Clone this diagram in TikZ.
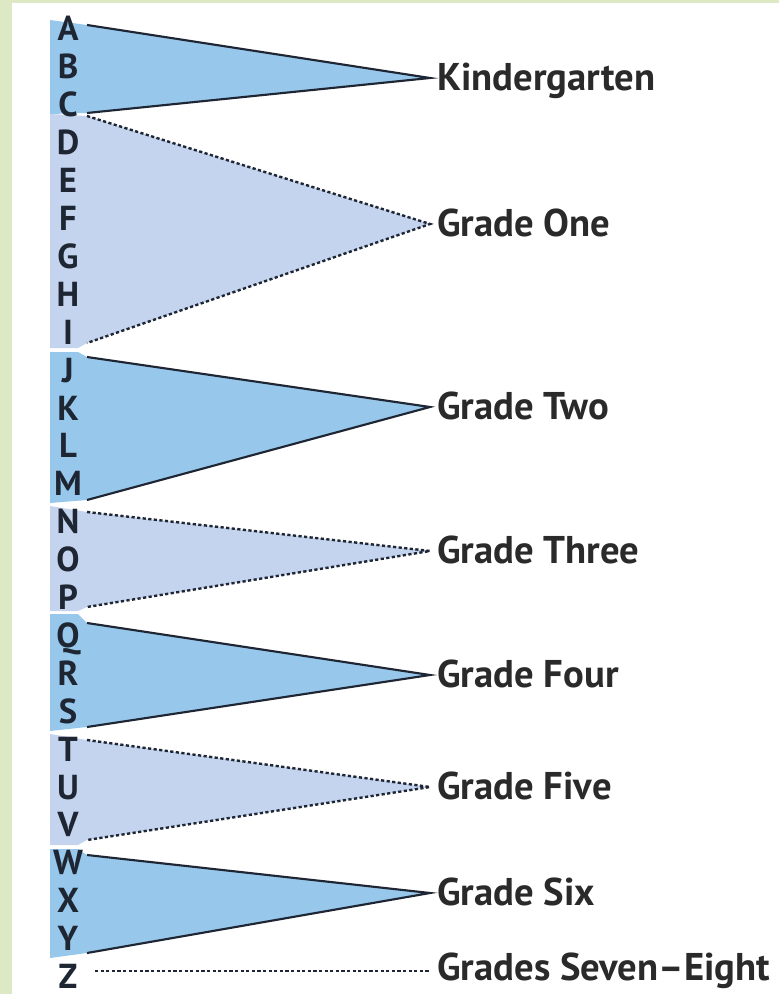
\documentclass[tikz,border=0pt]{standalone}
\usepackage{fontspec}
\setmainfont{PT Sans}
\definecolor{bggreen}{HTML}{DCE9C4}
\definecolor{solidblue}{HTML}{97C8EC}
\definecolor{lightblue}{HTML}{C4D4EF}
\definecolor{inkc}{HTML}{1F2633}
\definecolor{textc}{HTML}{2A2A2A}
\begin{document}
\begin{tikzpicture}[x=0.75pt,y=-0.75pt,
  letter/.style={font=\fontsize{26}{26}\selectfont\bfseries, text=inkc, inner sep=0pt, anchor=base},
  glabel/.style={font=\fontsize{29}{29}\selectfont\bfseries, text=textc, inner sep=0pt, anchor=base west},
  solidedge/.style={draw=inkc, line width=1.6pt},
  dotedge/.style={draw=inkc, line width=1.8pt, dash pattern=on 2.4pt off 1.8pt},
  solidfill/.style={fill=solidblue},
  lightfill/.style={fill=lightblue}]
\useasboundingbox (0,0) rectangle (779,994);
\fill[bggreen] (0,0) rectangle (779,994);
\fill[white] (12,3) rectangle (779,994);

% apex and end coordinates
\coordinate (kT) at (87,25);  \coordinate (kB) at (87,113); \coordinate (kA) at (430,78);
\coordinate (oT) at (87,116); \coordinate (oB) at (87,343); \coordinate (oA) at (430,224);
\coordinate (wT) at (87,357); \coordinate (wB) at (87,500); \coordinate (wA) at (430,407);
\coordinate (hT) at (87,512); \coordinate (hB) at (87,607); \coordinate (hA) at (430,551);
\coordinate (fT) at (87,623); \coordinate (fB) at (87,727); \coordinate (fA) at (430,675);
\coordinate (vT) at (87,740); \coordinate (vB) at (87,840); \coordinate (vA) at (430,787);
\coordinate (sT) at (87,855); \coordinate (sB) at (87,953); \coordinate (sA) at (430,893);
\coordinate (zS) at (95,971); \coordinate (zA) at (430,971);

% fills (strip + triangle)
\fill[solidfill] (50,20) -- (kT) -- (kA) -- (kB) -- (50,114) -- cycle;
\fill[lightfill] (50,114) -- (oT) -- (oA) -- (oB) -- (78,348) -- (50,348) -- cycle;
\fill[solidfill] (50,352) -- (78,352) -- (wT) -- (wA) -- (wB) -- (50,503) -- cycle;
\fill[lightfill] (50,506) -- (hT) -- (hA) -- (hB) -- (78,611) -- (50,611) -- cycle;
\fill[solidfill] (50,614) -- (78,614) -- (fT) -- (fA) -- (fB) -- (50,731) -- cycle;
\fill[lightfill] (50,734) -- (vT) -- (vA) -- (vB) -- (78,845) -- (50,845) -- cycle;
\fill[solidfill] (50,849) -- (78,849) -- (sT) -- (sA) -- (sB) -- (50,958) -- cycle;

% letters
\foreach \l [count=\i from 0] in {A,B,C,D,E,F,G,H,I,J,K,L,M,N,O,P,Q,R,S,T,U,V,W,X,Y,Z}
  \node[letter] (L\l) at (68,{30+37.9*\i+11}) {\l};

% edges
\draw[solidedge] (kT) -- (kA) -- (kB);
\draw[dotedge] (oT) -- (oA) -- (oB);
\draw[solidedge] (wT) -- (wA) -- (wB);
\draw[dotedge] (hT) -- (hA) -- (hB);
\draw[solidedge] (fT) -- (fA) -- (fB);
\draw[dotedge] (vT) -- (vA) -- (vB);
\draw[solidedge] (sT) -- (sA) -- (sB);
\draw[dotedge] (zS) -- (zA);

% labels
\node[glabel] (gk) at (437,{78+12.5}) {Kindergarten};
\node[glabel] (g1) at (437,{224+12.5}) {Grade One};
\node[glabel] (g2) at (437,{407+12.5}) {Grade Two};
\node[glabel] (g3) at (437,{551+12.5}) {Grade Three};
\node[glabel] (g4) at (437,{675+12.5}) {Grade Four};
\node[glabel] (g5) at (437,{787+12.5}) {Grade Five};
\node[glabel] (g6) at (437,{893+12.5}) {Grade Six};
\node[glabel] (g78) at (437,{968+12.5}) {Grades Seven\textendash Eight};
\end{tikzpicture}
\end{document}
